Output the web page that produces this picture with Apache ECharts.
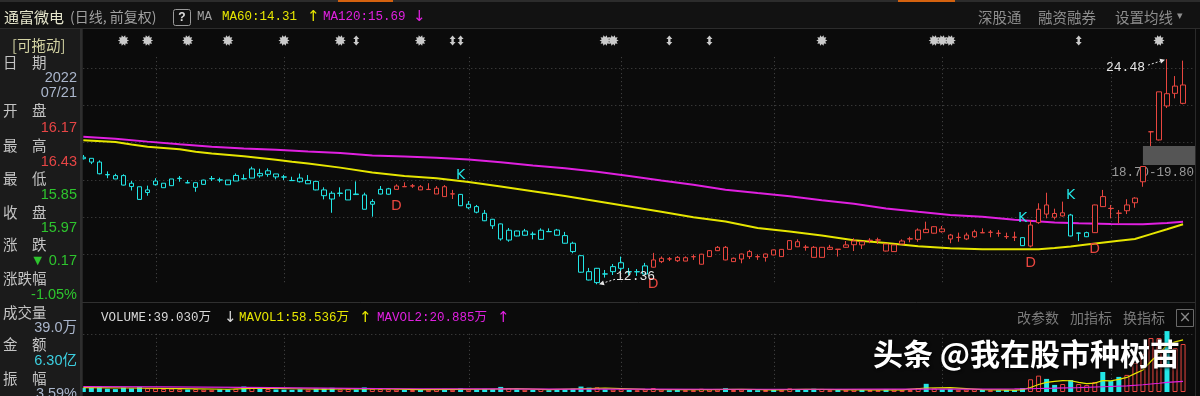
<!DOCTYPE html>
<html><head><meta charset="utf-8">
<script src="https://cdn.jsdelivr.net/npm/echarts@6/dist/echarts.min.js"></script>
<style>html,body{margin:0;padding:0;background:#0b0b0b;overflow:hidden}#c{width:1200px;height:396px}</style>
</head><body><div id="c"></div>
<script>
// ---------------- DATA ----------------
const tradingDays = [
  ['2022/01', [18,19,20,21,24,25,26,27,28]],
  ['2022/02', [7,8,9,10,11,14,15,16,17,18,21,22,23,24,25,28]],
  ['2022/03', [1,2,3,4,7,8,9,10,11,14,15,16,17,18,21,22,23,24,25,28,29,30,31]],
  ['2022/04', [1,6,7,8,11,12,13,14,15,18,19,20,21,22,25,26,27,28,29]],
  ['2022/05', [5,6,9,10,11,12,13,16,17,18,19,20,23,24,25,26,27,30,31]],
  ['2022/06', [1,2,6,7,8,9,10,13,14,15,16,17,20,21,22,23,24,27,28,29,30]],
  ['2022/07', [1,4,5,6,7,8,11,12,13,14,15,18,19,20,21,22,25,26,27,28,29]],
  ['2022/08', [1,2,3,4,5,8,9,10,11,12]]
];
const opens = [19.20,19.14,18.94,18.27,18.03,18.21,17.80,17.61,17.30,
17.92,17.56,17.67,18.05,17.83,17.58,17.74,18.04,17.97,17.72,17.92,18.03,18.08,18.33,18.47,18.30,
18.14,17.94,18.08,17.77,17.90,17.44,17.26,17.27,16.90,17.19,17.17,16.67,17.22,17.21,17.47,17.61,17.66,17.61,17.46,17.22,17.61,17.23,17.20,
16.48,16.54,16.18,15.86,15.61,14.74,15.23,15.00,15.06,14.78,15.20,15.28,14.98,14.57,13.90,13.04,12.45,12.92,13.04,
13.22,13.04,13.03,12.91,13.28,13.58,13.72,13.81,13.61,13.85,13.44,13.85,14.17,14.35,13.58,13.72,14.12,13.85,13.81,
14.21,13.85,14.24,14.65,14.36,14.35,13.81,14.24,14.25,14.35,14.49,14.48,14.73,14.74,14.53,14.12,14.53,14.80,14.78,15.32,15.11,
15.34,15.01,14.88,14.80,14.92,15.13,15.16,15.10,14.93,14.90,14.87,14.42,15.68,16.63,16.17,16.21,16.09,15.12,14.92,15.14,17.08,
16.45,16.19,16.32,16.75,17.88,20.57,20.13,21.96,23.03,22.10];
const highs = [19.32,19.14,19.03,18.44,18.31,18.28,17.92,17.61,17.67,
18.07,17.80,18.03,18.19,17.97,17.83,17.99,18.19,18.10,17.97,18.33,18.28,18.69,18.58,18.60,18.30,
18.25,18.15,18.32,18.24,17.92,17.58,17.37,17.58,17.44,17.90,17.29,16.94,17.65,17.55,17.74,17.85,17.76,17.70,17.80,17.65,17.70,17.44,17.22,
16.84,16.63,16.36,15.88,15.63,15.39,15.25,15.34,15.19,15.37,15.37,15.34,15.18,14.65,13.92,13.24,13.24,13.13,13.45,
13.85,13.24,13.18,13.51,14.05,13.86,13.83,13.88,13.86,13.97,14.00,14.20,14.42,14.42,13.80,14.01,14.21,13.97,14.01,
14.23,14.26,14.73,14.78,14.48,14.42,14.37,14.48,14.26,14.69,14.84,14.67,14.84,14.87,14.55,14.50,14.78,14.92,15.37,15.73,15.48,
15.50,15.07,15.14,15.14,15.30,15.37,15.28,15.28,15.14,15.19,14.89,15.82,16.72,17.29,16.43,16.81,16.15,15.14,15.19,16.65,17.44,
16.63,16.36,16.94,17.05,18.70,20.57,22.72,24.48,23.57,24.40];
const lows = [19.08,18.83,18.28,18.07,18.03,17.68,17.41,16.90,17.13,
17.67,17.56,17.67,17.88,17.80,17.34,17.72,17.92,17.85,17.72,17.92,18.01,18.08,18.10,18.15,18.01,
17.97,17.93,17.84,17.77,17.42,16.93,16.21,17.08,16.90,17.18,16.40,16.00,17.20,17.18,17.47,17.60,17.55,17.43,17.45,17.22,17.07,16.95,16.57,
16.40,16.18,15.76,15.34,14.71,14.65,14.94,14.98,14.78,14.76,15.18,14.98,14.55,14.03,12.99,12.57,12.36,12.72,12.86,
13.04,12.86,12.81,12.90,13.26,13.50,13.61,13.56,13.60,13.67,13.42,13.83,14.15,13.65,13.56,13.49,13.72,13.67,13.58,
13.92,13.83,14.22,14.36,14.17,13.79,13.79,14.22,13.85,14.33,14.15,14.26,14.57,14.53,14.13,14.10,14.51,14.62,14.65,15.12,15.09,
15.14,14.57,14.65,14.74,14.85,15.12,14.89,14.92,14.80,14.69,14.42,14.35,15.61,15.91,15.85,16.00,14.94,14.69,14.90,15.12,16.52,
15.91,15.64,16.14,16.48,17.61,19.80,20.10,21.85,22.37,22.05];
const closes = [19.12,18.94,18.31,18.25,18.21,17.70,17.62,16.93,17.44,
17.72,17.80,18.03,18.07,17.82,17.83,17.97,18.05,17.98,17.97,18.22,18.05,18.57,18.20,18.28,18.14,
18.13,17.95,17.88,17.95,17.44,17.13,16.95,17.25,17.44,17.22,16.40,16.81,17.47,17.50,17.65,17.62,17.65,17.44,17.47,17.53,17.08,17.22,16.59,
16.67,16.24,15.78,15.51,14.80,15.27,14.96,15.23,15.05,15.27,15.19,15.00,14.57,14.12,13.01,12.59,13.22,12.91,13.31,
13.52,13.03,13.04,13.35,13.67,13.76,13.73,13.63,13.79,13.84,13.98,14.17,14.35,13.67,13.76,13.99,13.85,13.84,13.99,
13.94,14.24,14.71,14.38,14.35,13.81,14.35,14.35,14.24,14.48,14.69,14.65,14.72,14.75,14.15,14.48,14.69,14.81,15.28,15.14,15.46,
15.19,14.80,14.89,15.01,15.19,15.14,15.16,15.11,14.92,14.89,14.44,15.55,16.40,16.14,15.97,16.04,14.96,15.11,15.14,16.63,16.54,
16.44,16.18,16.63,17.00,18.70,20.57,22.72,22.62,22.64,23.09];
// volume in 万手
const volumes = [22,25,30,18,16,24,20,28,21,
20,17,19,15,14,16,13,12,15,14,18,30,26,19,16,14,
13,12,15,13,18,20,23,14,17,14,25,18,16,15,13,12,11,13,12,15,17,12,20,
13,14,17,16,28,22,14,12,11,16,10,13,16,18,30,24,26,14,13,
15,11,10,14,22,13,10,11,10,10,18,14,13,21,11,13,12,10,11,
13,12,20,16,12,18,17,10,11,12,14,12,11,10,15,14,12,11,22,45,20,
14,17,12,13,15,11,10,10,12,11,22,70,90,72,39.03,44,66,44,38,55,110,
60,83,94,160,209,297,297,335,242,264];
const ma60 = [[0,20.11],[4,20.02],[6,19.89],[8,19.77],[10,19.70],[12,19.63],[14,19.49],[16,19.40],[20,19.25],[24,19.07],[26,18.96],[28,18.86],[32,18.64],[36,18.38],[40,18.19],[44,18.07],[48,17.87],[52,17.62],[56,17.37],[60,17.11],[64,16.83],[68,16.55],[72,16.26],[76,15.97],[80,15.74],[84,15.39],[88,15.20],[92,14.99],[96,14.73],[100,14.58],[104,14.41],[108,14.30],[112,14.24],[116,14.24],[119,14.25],[121,14.31],[123,14.40],[125,14.50],[129,14.70],[131,14.80],[133,15.06],[135,15.32],[137,15.59]];
const ma120 = [[0,20.30],[4,20.19],[8,20.04],[12,19.90],[16,19.77],[20,19.67],[24,19.60],[28,19.51],[32,19.43],[36,19.29],[40,19.24],[44,19.17],[48,19.08],[52,18.93],[56,18.76],[60,18.61],[64,18.42],[68,18.19],[72,17.95],[76,17.72],[80,17.45],[84,17.27],[88,17.10],[92,16.89],[96,16.70],[100,16.44],[104,16.26],[108,16.09],[112,16.00],[116,15.83],[121,15.69],[124,15.64],[128,15.61],[132,15.59],[135,15.66],[137,15.73]];
const mavol1 = [[0,24],[6,22],[12,19],[18,15],[22,21],[26,18],[30,16],[34,19],[38,17],[42,13],[46,14],[50,15],[54,19],[58,13],[62,18],[65,22],[70,14],[74,13],[78,13],[82,15],[86,12],[90,15],[94,13],[98,12],[102,12],[105,22],[108,24],[112,13],[116,10.8],[117,13],[118,25],[119,41],[120,53],[121,58.536],[122,63],[123,62],[124,53],[125,46],[126,49],[127,63],[128,61],[129,69],[130,80],[131,101],[132,121],[133,169],[134,211],[135,260],[136,276],[137,287]];
const mavol2 = [[0,30],[10,28],[20,25],[30,21],[40,18],[50,17],[60,16],[70,16],[80,15],[90,15],[100,15.5],[110,16],[116,16.9],[118,18],[119,19.3],[120,20.3],[121,20.885],[124,24],[127,29],[130,34],[132,40],[134,48],[135,53],[137,58]];
const signals = [[39,'D'],[47,'K'],[71,'D'],[117,'K'],[118,'D'],[123,'K'],[126,'D']];
const eventStars = [5,8,13,18,25,32,42,65,66,92,106,107,108,134];
const eventArrows = [34,46,47,73,78,124];
const priceGridLevels = [14,16,18,20,22,24];
const volGridLevel = 320;
const gapAt = 133;
const cursorDate = '2022/07/21';
const amountYi = 6.30;

// ---------------- BUILD ----------------
const categories = [], monthStarts = [];
tradingDays.forEach(([ym, days], m) => days.forEach((d, k) => {
  if (k === 0 && m > 0) monthStarts.push(categories.length);
  categories.push(ym + '/' + String(d).padStart(2, '0'));
}));
const xCats = categories.concat(['']);
const cursor = categories.indexOf(cursorDate);
const at = (arr, i) => arr.find(p => p[0] === i)[1];

const BG = '#0b0b0b', RED = '#e8463f', CYAN = '#22e6e6', YEL = '#e6e600', MAG = '#e020e0', GRIDC = '#4a4a4a';
const GREEN = '#2ec52e';
const MONO = '"Liberation Mono","Noto Sans CJK SC",monospace';
const CJK = '"Noto Sans CJK SC","Noto Sans",sans-serif';
const SANS = '"Liberation Sans","Noto Sans CJK SC",sans-serif';

const sigMap = {}; signals.forEach(([i, t]) => sigMap[i] = t);
let st = 'K';
const trend = categories.map((_, i) => { if (sigMap[i]) st = sigMap[i]; return st === 'D' ? RED : CYAN; });

const candleData = categories.map((_, i) => ({
  value: [opens[i], closes[i], lows[i], highs[i]],
  itemStyle: { color: BG, color0: trend[i], borderColor: trend[i], borderColor0: trend[i], borderWidth: 1 }
}));
const volData = volumes.map((v, i) => {
  const up = i === 0 ? closes[0] >= opens[0] : closes[i] >= closes[i - 1];
  return { value: v, itemStyle: up ? { color: BG, borderColor: RED, borderWidth: 1 } : { color: CYAN, borderWidth: 0 } };
});

let maxIdx = 0, minIdx = 0;
highs.forEach((h, i) => { if (h > highs[maxIdx]) maxIdx = i; });
lows.forEach((l, i) => { if (l < lows[minIdx]) minIdx = i; });

function txt(text, x, y, fill, font, align) {
  align = align || 'left';
  return { type: 'text', silent: true, style: { text, x, y, fill, font, align, verticalAlign: 'middle', textAlign: align, textVerticalAlign: 'middle' } };
}
function arrowGroup(x1, y1, x2, y2, color) {
  const dx = x2 - x1, dy = y2 - y1, L = Math.sqrt(dx * dx + dy * dy), ux = dx / L, uy = dy / L;
  const bx = x2 - ux * 5, by = y2 - uy * 5;
  return [
    { type: 'line', shape: { x1, y1, x2: bx, y2: by }, style: { stroke: color, lineWidth: 1, lineDash: [2, 2] } },
    { type: 'polygon', shape: { points: [[x2, y2], [bx - uy * 2.5, by + ux * 2.5], [bx + uy * 2.5, by - ux * 2.5]] }, style: { fill: color } }
  ];
}

const series = [
  { name: 'hgrid', type: 'custom', xAxisIndex: 0, yAxisIndex: 0, z: 1, silent: true,
    data: priceGridLevels.map(v => [0, v]),
    renderItem: (p, api) => { const cs = p.coordSys; const y = Math.round(api.coord([0, api.value(1)])[1]) + 0.5;
      return { type: 'line', shape: { x1: cs.x + 4, y1: y, x2: cs.x + cs.width, y2: y }, style: { stroke: GRIDC, lineWidth: 1, lineDash: [1, 3] } }; } },
  { name: 'vgrid', type: 'custom', xAxisIndex: 0, yAxisIndex: 0, z: 1, silent: true,
    data: monthStarts.map(i => [i, 20]),
    renderItem: (p, api) => { const cs = p.coordSys; const x = Math.round(api.coord([api.value(0), 20])[0]) + 0.5;
      return { type: 'line', shape: { x1: x, y1: cs.y + 30, x2: x, y2: cs.y + cs.height - 14 }, style: { stroke: GRIDC, lineWidth: 1, lineDash: [1, 3] } }; } },
  { name: 'vhgrid', type: 'custom', xAxisIndex: 1, yAxisIndex: 1, z: 1, silent: true,
    data: [[0, volGridLevel]],
    renderItem: (p, api) => { const cs = p.coordSys; const y = Math.round(api.coord([0, api.value(1)])[1]) + 0.5;
      return { type: 'line', shape: { x1: cs.x + 4, y1: y, x2: cs.x + cs.width, y2: y }, style: { stroke: GRIDC, lineWidth: 1, lineDash: [1, 3] } }; } },
  { name: 'vvgrid', type: 'custom', xAxisIndex: 1, yAxisIndex: 1, z: 1, silent: true,
    data: monthStarts.map(i => [i, volGridLevel]),
    renderItem: (p, api) => { const cs = p.coordSys; const a = api.coord([api.value(0), api.value(1)]); const x = Math.round(a[0]) + 0.5;
      return { type: 'line', shape: { x1: x, y1: a[1], x2: x, y2: cs.y + cs.height }, style: { stroke: GRIDC, lineWidth: 1, lineDash: [1, 3] } }; } },
  { name: 'gap', type: 'custom', xAxisIndex: 0, yAxisIndex: 0, z: 2, silent: true,
    data: [[gapAt - 1, highs[gapAt - 1], lows[gapAt]]],
    renderItem: (p, api) => { const cs = p.coordSys; const i = api.value(0);
      const lo = api.coord([i, api.value(1)]), hi = api.coord([i, api.value(2)]);
      const right = cs.x + cs.width;
      return { type: 'group', children: [
        { type: 'rect', shape: { x: lo[0], y: hi[1], width: right - lo[0], height: lo[1] - hi[1] - 1.5 }, style: { fill: '#555555' } },
        txt(api.value(1).toFixed(2) + '-' + api.value(2).toFixed(2), right - 1, lo[1] + 6, '#9a9a9a', '12.5px ' + MONO, 'right')
      ] }; } },
  { name: 'MA120', type: 'line', xAxisIndex: 0, yAxisIndex: 0, data: ma120, showSymbol: false, symbol: 'none', z: 3, lineStyle: { color: MAG, width: 2 } },
  { name: 'MA60', type: 'line', xAxisIndex: 0, yAxisIndex: 0, data: ma60, showSymbol: false, symbol: 'none', z: 3, lineStyle: { color: YEL, width: 2 } },
  { name: 'K', type: 'candlestick', xAxisIndex: 0, yAxisIndex: 0, barWidth: 5, z: 4, data: candleData },
  { name: 'signals', type: 'custom', xAxisIndex: 0, yAxisIndex: 0, z: 5, silent: true,
    data: signals.map(([i, t]) => [i, t === 'D' ? lows[i] : highs[i], t === 'D' ? 1 : 0]),
    renderItem: (p, api) => { const c = api.coord([api.value(0), api.value(1)]); const isD = api.value(2) === 1;
      return txt(isD ? 'D' : 'K', c[0], isD ? c[1] + 16.5 : c[1] - 18.5, isD ? RED : CYAN, '14px "DejaVu Sans",sans-serif', 'center'); } },
  { name: 'extremes', type: 'custom', xAxisIndex: 0, yAxisIndex: 0, z: 6, silent: true,
    data: [[maxIdx, highs[maxIdx], 1], [minIdx, lows[minIdx], -1]],
    renderItem: (p, api) => { const c = api.coord([api.value(0), api.value(1)]); const v = api.value(1).toFixed(2);
      if (api.value(2) === 1) {
        return { type: 'group', children: [txt(v, c[0] - 22, c[1] + 8, '#e6e6e6', '13px ' + MONO, 'right')].concat(arrowGroup(c[0] - 19, c[1] + 6, c[0] - 2, c[1] + 0.5, '#e6e6e6')) };
      }
      return { type: 'group', children: [txt(v, c[0] + 19, c[1] - 8, '#e6e6e6', '13px ' + MONO, 'left')].concat(arrowGroup(c[0] + 18, c[1] - 5, c[0] + 2, c[1], '#e6e6e6')) }; } },
  { name: 'events', type: 'custom', xAxisIndex: 0, yAxisIndex: 0, z: 6, silent: true,
    data: eventStars.map(i => [i, 0]).concat(eventArrows.map(i => [i, 1])),
    renderItem: (p, api) => { const cs = p.coordSys; const x = api.coord([api.value(0), 20])[0]; const y = cs.y + 13.3;
      if (api.value(1) === 0) {
        const pts = []; for (let k = 0; k < 20; k++) { const r = k % 2 ? 3.6 : 5.6; const a = Math.PI * k / 10; pts.push([x + r * Math.cos(a), y + r * Math.sin(a)]); }
        return { type: 'polygon', shape: { points: pts }, style: { fill: '#cacaca' } };
      }
      return { type: 'polygon', shape: { points: [[x, y - 5], [x + 3, y - 1.5], [x + 1.2, y - 1.5], [x + 1.2, y + 1.5], [x + 3, y + 1.5], [x, y + 5], [x - 3, y + 1.5], [x - 1.2, y + 1.5], [x - 1.2, y - 1.5], [x - 3, y - 1.5]] }, style: { fill: '#cacaca' } }; } },
  { name: 'VOL', type: 'bar', xAxisIndex: 1, yAxisIndex: 1, barWidth: 5, z: 3, data: volData },
  { name: 'MAVOL1', type: 'line', xAxisIndex: 1, yAxisIndex: 1, data: mavol1, showSymbol: false, symbol: 'none', z: 4, lineStyle: { color: YEL, width: 1.2 } },
  { name: 'MAVOL2', type: 'line', xAxisIndex: 1, yAxisIndex: 1, data: mavol2, showSymbol: false, symbol: 'none', z: 4, lineStyle: { color: MAG, width: 1.2 } }
];

// readout values for the cursor day
const o = opens[cursor], h = highs[cursor], l = lows[cursor], c = closes[cursor], pc = closes[cursor - 1];
const chg = c - pc;
const colOf = v => v > pc ? '#e64545' : (v < pc ? GREEN : '#cccccc');
const [cy, cm, cd] = cursorDate.split('/');

const LBL = '#c4c4c4', VALC = '#aab6cc';
const graphic = [
  // header
  { type: 'rect', z: 100, silent: true, shape: { x: 0, y: 0, width: 1200, height: 29 }, style: { fill: '#121212' } },
  { type: 'rect', z: 101, silent: true, shape: { x: 0, y: 0, width: 1200, height: 2 }, style: { fill: '#2c2c2c' } },
  { type: 'rect', z: 101, silent: true, shape: { x: 338, y: 0, width: 55, height: 2 }, style: { fill: '#d4620f' } },
  { type: 'rect', z: 101, silent: true, shape: { x: 898, y: 0, width: 57, height: 2 }, style: { fill: '#d4620f' } },
  { type: 'line', z: 101, silent: true, shape: { x1: 0, y1: 28.5, x2: 1200, y2: 28.5 }, style: { stroke: '#2c2c2c', lineWidth: 1 } },
  Object.assign(txt('通富微电', 4, 17, '#e6e6cc', '15px ' + CJK), { z: 102 }),
  Object.assign(txt('(日线, 前复权)', 70, 17, '#a0a0a0', '14px ' + CJK), { z: 102 }),
  { type: 'rect', z: 102, silent: true, shape: { x: 173.5, y: 9.5, width: 17, height: 16, r: 2 }, style: { fill: 'none', stroke: '#9a9a9a', lineWidth: 1 } },
  Object.assign(txt('?', 182, 17.5, '#e0e0e0', 'bold 12px ' + SANS, 'center'), { z: 102 }),
  Object.assign(txt('MA', 197, 17, '#a0a0a0', '12.5px ' + MONO), { z: 102 }),
  Object.assign(txt('MA60:' + at(ma60, cursor).toFixed(2), 222, 17, YEL, '12.5px ' + MONO), { z: 102 }),
  Object.assign(txt('↑', 307, 17, YEL, '15px "DejaVu Sans"'), { z: 102 }),
  Object.assign(txt('MA120:' + at(ma120, cursor).toFixed(2), 323, 17, MAG, '12.5px ' + MONO), { z: 102 }),
  Object.assign(txt('↓', 413, 17, MAG, '15px "DejaVu Sans"'), { z: 102 }),
  Object.assign(txt('深股通', 978, 17, '#8e8e8e', '14.5px ' + CJK), { z: 102 }),
  Object.assign(txt('融资融券', 1038, 17, '#8e8e8e', '14.5px ' + CJK), { z: 102 }),
  Object.assign(txt('设置均线', 1115, 17, '#8e8e8e', '14.5px ' + CJK), { z: 102 }),
  Object.assign(txt('▾', 1177, 16, '#8e8e8e', '11px "DejaVu Sans"'), { z: 102 }),
  // left panel
  { type: 'rect', z: 100, silent: true, shape: { x: 0, y: 29, width: 80, height: 367 }, style: { fill: '#1b1b1b' } },
  { type: 'rect', z: 100, silent: true, shape: { x: 80, y: 29, width: 2.7, height: 367 }, style: { fill: '#2e2e2e' } },
  { type: 'line', z: 100, silent: true, shape: { x1: 1195.5, y1: 29, x2: 1195.5, y2: 396 }, style: { stroke: '#2a2a2a', lineWidth: 1 } },
  { type: 'line', z: 100, silent: true, shape: { x1: 82, y1: 302.5, x2: 1195, y2: 302.5 }, style: { stroke: '#303030', lineWidth: 1 } },
];
const leftRows = [
  ['[可拖动]', 12, 45, '#d4d4a4', 'left', CJK],
  ['日　期', 3, 62, LBL, 'left', CJK], [cy, 77, 78, VALC, 'right', SANS], [cm + '/' + cd, 77, 93, VALC, 'right', SANS],
  ['开　盘', 3, 110, LBL, 'left', CJK], [o.toFixed(2), 77, 128, colOf(o), 'right', SANS],
  ['最　高', 3, 145, LBL, 'left', CJK], [h.toFixed(2), 77, 162, colOf(h), 'right', SANS],
  ['最　低', 3, 178, LBL, 'left', CJK], [l.toFixed(2), 77, 195, colOf(l), 'right', SANS],
  ['收　盘', 3, 212, LBL, 'left', CJK], [c.toFixed(2), 77, 228, colOf(c), 'right', SANS],
  ['涨　跌', 3, 244, LBL, 'left', CJK], [(chg < 0 ? '▼ ' : '▲ ') + Math.abs(chg).toFixed(2), 77, 261, chg < 0 ? GREEN : '#e64545', 'right', SANS],
  ['涨跌幅', 3, 278, LBL, 'left', CJK], [(chg / pc * 100).toFixed(2) + '%', 77, 295, chg < 0 ? GREEN : '#e64545', 'right', SANS],
  ['成交量', 3, 312, LBL, 'left', CJK], [volumes[cursor].toFixed(1) + '万', 77, 328, VALC, 'right', SANS],
  ['金　额', 3, 344, LBL, 'left', CJK], [amountYi.toFixed(2) + '亿', 77, 361, '#3ccfe0', 'right', SANS],
  ['振　幅', 3, 378, LBL, 'left', CJK], [((h - l) / pc * 100).toFixed(2) + '%', 77, 394, VALC, 'right', SANS]
];
leftRows.forEach(([t, x, y, f, a, fam]) => graphic.push(Object.assign(txt(t, x, y, f, '14.5px ' + fam, a), { z: 102 })));
// volume header
[
  ['VOLUME:' + volumes[cursor].toFixed(3) + '万', 101, '#d8d8d8', MONO], ['↓', 224, '#d8d8d8', '"DejaVu Sans"'],
  ['MAVOL1:' + at(mavol1, cursor).toFixed(3) + '万', 239, YEL, MONO], ['↑', 359, YEL, '"DejaVu Sans"'],
  ['MAVOL2:' + at(mavol2, cursor).toFixed(3) + '万', 377, MAG, MONO], ['↑', 497, MAG, '"DejaVu Sans"']
].forEach(([t, x, f, fam]) => graphic.push(Object.assign(txt(t, x, 318, f, (fam === MONO ? '12.5px ' : '15px ') + fam), { z: 102 })));
[['改参数', 1017], ['加指标', 1070], ['换指标', 1123]].forEach(([t, x]) => graphic.push(Object.assign(txt(t, x, 318, '#7a7a7a', '14px ' + CJK), { z: 102 })));
graphic.push({ type: 'rect', z: 102, silent: true, shape: { x: 1176.5, y: 309.5, width: 17, height: 17 }, style: { fill: 'none', stroke: '#6a6a6a', lineWidth: 1 } });
graphic.push(Object.assign(txt('×', 1185, 318, '#8a8a8a', '15px "DejaVu Sans"', 'center'), { z: 102 }));
// watermark
graphic.push({ type: 'text', z: 110, silent: true, style: { text: '头条 @我在股市种树苗', x: 873, y: 354, fill: '#ffffff', font: 'bold 30px ' + CJK, align: 'left', verticalAlign: 'middle', textAlign: 'left', textVerticalAlign: 'middle', textShadowColor: 'rgba(0,0,0,0.9)', textShadowBlur: 3, textShadowOffsetX: 1, textShadowOffsetY: 1 } });

const chart = echarts.init(document.getElementById('c'), null, { renderer: 'canvas' });
chart.setOption({
  backgroundColor: BG,
  animation: false,
  grid: [
    { left: 79.3, top: 27.2, width: 1115.8, height: 271.2 },
    { left: 79.3, top: 330, width: 1115.8, height: 62 }
  ],
  xAxis: [
    { type: 'category', gridIndex: 0, data: xCats, boundaryGap: true, show: false },
    { type: 'category', gridIndex: 1, data: xCats, boundaryGap: true, show: false }
  ],
  yAxis: [
    { type: 'value', gridIndex: 0, min: 11.6, max: 26.2, show: false },
    { type: 'value', gridIndex: 1, min: 0, max: 341, show: false }
  ],
  series,
  graphic
});
</script></body></html>
